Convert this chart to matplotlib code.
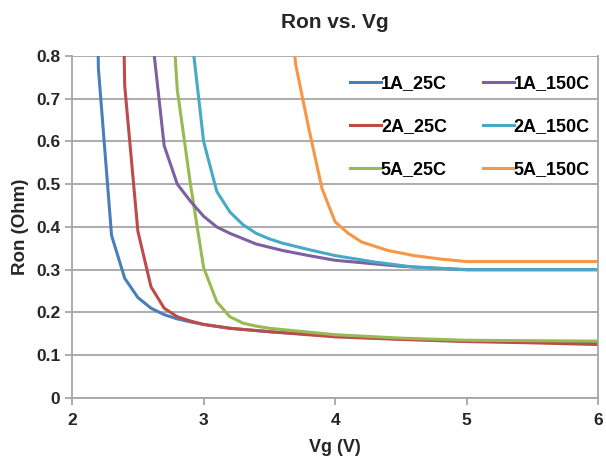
import matplotlib
matplotlib.use("Agg")
import matplotlib.pyplot as plt

plt.rcParams['font.family'] = ['Liberation Sans', 'DejaVu Sans']

# Ron (Ohm) vs Vg (V)
vg_1a25 = [2.1, 2.2, 2.3, 2.4, 2.5, 2.6, 2.7, 2.8, 2.9, 3.0, 3.2, 3.5, 4.0, 4.5, 5.0, 5.5, 6.0]
ron_1a25 = [2.5, 0.77, 0.38, 0.28, 0.235, 0.21, 0.195, 0.185, 0.178, 0.172, 0.163, 0.155, 0.145, 0.138, 0.133, 0.131, 0.13]

vg_2a25 = [2.3, 2.4, 2.5, 2.6, 2.7, 2.8, 2.9, 3.0, 3.2, 3.5, 4.0, 4.5, 5.0, 5.5, 6.0]
ron_2a25 = [2.5, 0.73, 0.39, 0.26, 0.21, 0.19, 0.18, 0.172, 0.163, 0.155, 0.143, 0.137, 0.132, 0.129, 0.125]

vg_5a25 = [2.7, 2.8, 2.9, 3.0, 3.1, 3.2, 3.3, 3.4, 3.5, 3.7, 4.0, 4.5, 5.0, 5.5, 6.0]
ron_5a25 = [1.2, 0.72, 0.50, 0.305, 0.225, 0.19, 0.175, 0.168, 0.163, 0.157, 0.148, 0.14, 0.135, 0.134, 0.133]

vg_1a150 = [2.5, 2.6, 2.7, 2.8, 2.9, 3.0, 3.1, 3.2, 3.4, 3.6, 3.8, 4.0, 4.5, 5.0, 5.5, 6.0]
ron_1a150 = [1.5, 0.87, 0.59, 0.50, 0.46, 0.425, 0.40, 0.385, 0.36, 0.345, 0.333, 0.322, 0.308, 0.30, 0.30, 0.30]

vg_2a150 = [2.8, 2.9, 3.0, 3.1, 3.2, 3.3, 3.4, 3.5, 3.6, 3.8, 4.0, 4.3, 4.6, 5.0, 5.5, 6.0]
ron_2a150 = [1.6, 0.87, 0.60, 0.483, 0.435, 0.405, 0.385, 0.372, 0.362, 0.347, 0.333, 0.318, 0.306, 0.30, 0.30, 0.30]

vg_5a150 = [3.6, 3.7, 3.8, 3.9, 4.0, 4.1, 4.2, 4.4, 4.6, 4.8, 5.0, 5.5, 6.0]
ron_5a150 = [1.1, 0.78, 0.63, 0.49, 0.412, 0.385, 0.365, 0.345, 0.333, 0.325, 0.319, 0.319, 0.319]

fig = plt.figure(figsize=(6.06, 4.58), dpi=100)
ax = fig.add_axes([0.119, 0.131, 0.868, 0.747])

lw = 2.2
ax.plot(vg_1a25, ron_1a25, color="#4a7ebb", lw=lw, label="1A_25C")
ax.plot(vg_2a25, ron_2a25, color="#be4b48", lw=lw, label="2A_25C")
ax.plot(vg_5a25, ron_5a25, color="#98b954", lw=lw, label="5A_25C")
ax.plot(vg_1a150, ron_1a150, color="#7d60a0", lw=lw, label="1A_150C")
ax.plot(vg_2a150, ron_2a150, color="#46aac5", lw=lw, label="2A_150C")
ax.plot(vg_5a150, ron_5a150, color="#f79646", lw=lw, label="5A_150C")

ax.set_xlim(2, 6)
ax.set_ylim(0, 0.8)
ax.set_xticks([2, 3, 4, 5, 6])
ax.set_yticks([0, 0.1, 0.2, 0.3, 0.4, 0.5, 0.6, 0.7, 0.8])
ax.set_yticklabels(["0", "0.1", "0.2", "0.3", "0.4", "0.5", "0.6", "0.7", "0.8"])
ax.yaxis.grid(True, color="#a6a6a6", lw=1.3)
ax.set_axisbelow(True)
for s in ["left", "bottom", "right"]:
    ax.spines[s].set_color("#a6a6a6")
    ax.spines[s].set_linewidth(1.3)
ax.spines["top"].set_visible(False)
ax.tick_params(colors="#a6a6a6", labelcolor="#262626", width=1.3, length=5,
               labelsize=12.5)
ax.tick_params(axis="x", pad=6)
for t in ax.get_xticklabels() + ax.get_yticklabels():
    t.set_fontweight("bold")

ax.set_title("Ron vs. Vg", fontsize=15, fontweight="bold", color="#262626", pad=20)
ax.set_xlabel("Vg (V)", fontsize=13, fontweight="bold", color="#262626", labelpad=8)
ax.set_ylabel("Ron (Ohm)", fontsize=13.5, fontweight="bold", color="#262626", labelpad=5)

ax.legend(ncol=2, loc="upper right", frameon=False,
          prop={"weight": "bold", "size": 13}, handlelength=1.7,
          handletextpad=0.0, columnspacing=2.0, labelspacing=1.45,
          borderaxespad=0, bbox_to_anchor=(0.998, 0.965))

fig.savefig("out.png", dpi=100)
